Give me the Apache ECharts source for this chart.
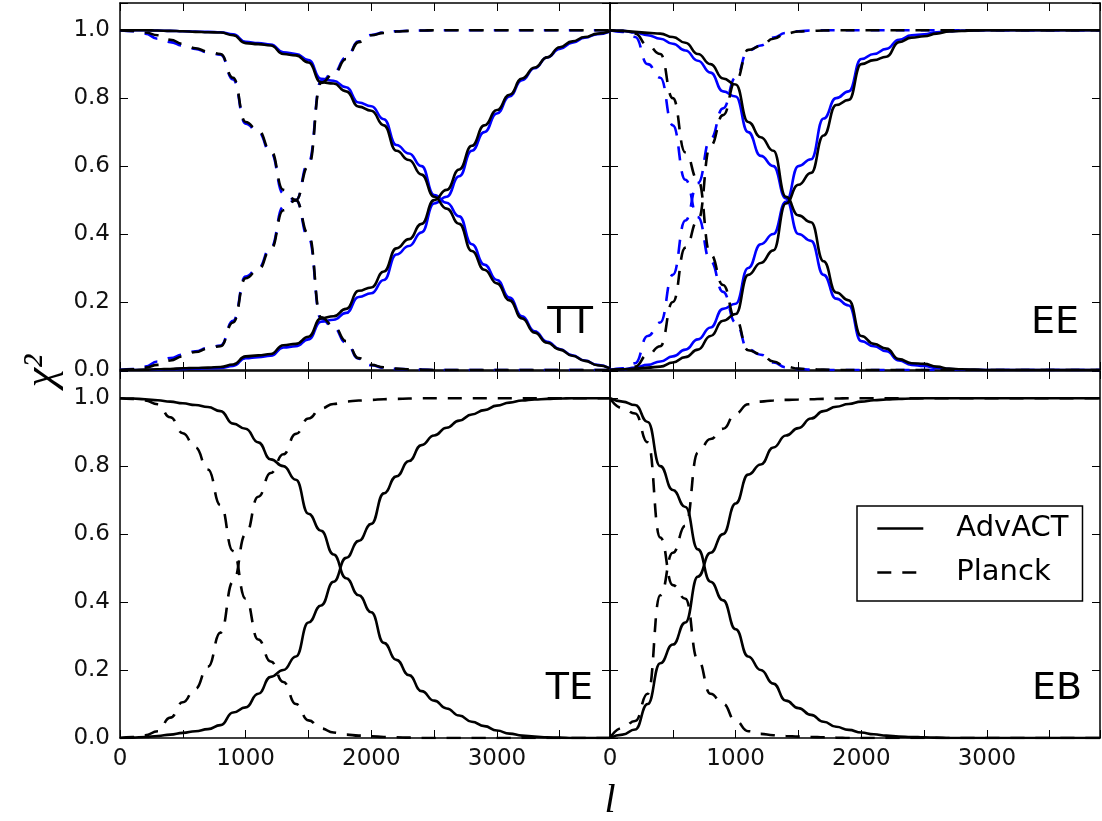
<!DOCTYPE html>
<html><head><meta charset="utf-8">
<script src="https://cdn.jsdelivr.net/npm/echarts@6/dist/echarts.min.js"></script>
<style>html,body{margin:0;padding:0;background:#fff}#c{width:1102px;height:821px}</style>
</head><body><div id="c"></div>
<script>
// multipole grid
const ell = [0,100,200,300,400,500,600,700,800,900,1000,1100,1200,1300,1400,1500,1600,1700,1800,1900,
             2000,2100,2200,2300,2400,2500,2600,2700,2800,2900,3000,3100,3200,3300,3400,3500,3600,3700,3800,3900];
const xLabelValues = [0,1000,2000,3000];
const yLabelValues = [0,0.2,0.4,0.6,0.8,1.0];
const panelNames = ['TT','EE','TE','EB'];

// ---- TT ----
const ttActDec = [1,1,1,0.999,0.998,0.997,0.995,0.994,0.993,0.985,
 0.962,0.959,0.955,0.93,0.926,0.905,0.847,0.843,0.82,0.775,
 0.763,0.72,0.645,0.618,0.575,0.51,0.475,0.43,0.35,0.295,
 0.255,0.205,0.152,0.11,0.08,0.06,0.042,0.027,0.014,0.005];
const ttActInc = [0,0,0.001,0.002,0.003,0.005,0.006,0.007,0.009,0.016,
 0.04,0.043,0.047,0.073,0.077,0.098,0.152,0.158,0.18,0.233,
 0.243,0.29,0.358,0.385,0.43,0.5,0.53,0.59,0.66,0.72,
 0.765,0.81,0.858,0.89,0.92,0.95,0.967,0.98,0.99,0.997];
const ttActDecB = [1,1,1,0.999,0.998,0.997,0.996,0.995,0.994,0.988,
 0.966,0.962,0.958,0.935,0.93,0.912,0.857,0.851,0.832,0.787,
 0.776,0.738,0.662,0.637,0.6,0.515,0.492,0.452,0.37,0.31,
 0.265,0.213,0.158,0.114,0.083,0.062,0.043,0.028,0.015,0.005];
const ttActIncB = [0,0,0,0.001,0.002,0.003,0.004,0.005,0.006,0.012,
 0.035,0.038,0.042,0.066,0.07,0.09,0.142,0.148,0.168,0.215,
 0.226,0.265,0.34,0.365,0.405,0.49,0.51,0.57,0.645,0.7,
 0.755,0.805,0.853,0.888,0.92,0.945,0.963,0.978,0.988,0.996];
const ttPlkDec = [1,0.998,0.993,0.985,0.972,0.96,0.947,0.937,0.93,0.86,
 0.73,0.705,0.645,0.53,0.5,0.4,0.155,0.13,0.085,0.035,
 0.015,0.008,0.004,0.002,0.001,0,0,0,0,0,
 0,0,0,0,0,0,0,0,0,0];
const ttPlkInc = [0,0.002,0.007,0.015,0.028,0.04,0.053,0.063,0.07,0.14,
 0.27,0.295,0.355,0.47,0.5,0.6,0.845,0.87,0.915,0.965,
 0.985,0.992,0.996,0.998,0.999,1,1,1,1,1,
 1,1,1,1,1,1,1,1,1,1];
const ttPlkDecB = [1,0.997,0.99,0.975,0.965,0.955,0.945,0.935,0.928,0.855,
 0.725,0.7,0.64,0.52,0.5,0.39,0.15,0.125,0.08,0.033,
 0.014,0.007,0.003,0.002,0.001,0,0,0,0,0,
 0,0,0,0,0,0,0,0,0,0];
const ttPlkIncB = [0,0.003,0.01,0.025,0.035,0.045,0.055,0.065,0.072,0.145,
 0.275,0.3,0.36,0.48,0.5,0.61,0.85,0.875,0.92,0.967,
 0.986,0.993,0.997,0.998,0.999,1,1,1,1,1,
 1,1,1,1,1,1,1,1,1,1];

// ---- EE ----
const eeActDec = [1,0.998,0.995,0.992,0.99,0.98,0.963,0.93,0.9,0.858,
 0.84,0.73,0.685,0.645,0.51,0.455,0.435,0.32,0.228,0.205,
 0.1,0.077,0.063,0.032,0.02,0.018,0.01,0.004,0.002,0.001,
 0,0,0,0,0,0,0,0,0,0];
const eeActInc = [0,0.002,0.004,0.007,0.01,0.022,0.038,0.06,0.1,0.145,
 0.165,0.28,0.315,0.352,0.49,0.545,0.58,0.69,0.78,0.795,
 0.9,0.912,0.922,0.965,0.978,0.982,0.99,0.996,0.998,0.999,
 1,1,1,1,1,1,1,1,1,1];
const eeActDecB = [1,0.998,0.993,0.985,0.975,0.96,0.94,0.91,0.875,0.82,
 0.805,0.7,0.63,0.6,0.505,0.4,0.38,0.28,0.21,0.19,
 0.085,0.07,0.055,0.028,0.015,0.012,0.006,0.003,0.001,0,
 0,0,0,0,0,0,0,0,0,0];
const eeActIncB = [0,0.002,0.007,0.015,0.025,0.04,0.06,0.09,0.125,0.18,
 0.195,0.3,0.37,0.4,0.495,0.6,0.62,0.74,0.8,0.82,
 0.915,0.93,0.945,0.972,0.985,0.988,0.994,0.997,0.999,1,
 1,1,1,1,1,1,1,1,1,1];
const eePlkDec = [1,0.998,0.99,0.955,0.93,0.8,0.64,0.56,0.34,0.25,
 0.15,0.058,0.047,0.025,0.01,0.004,0.002,0.001,0,0,
 0,0,0,0,0,0,0,0,0,0, 0,0,0,0,0,0,0,0,0,0];
const eePlkInc = [0,0.002,0.01,0.045,0.07,0.2,0.36,0.44,0.66,0.75,
 0.85,0.942,0.953,0.975,0.99,0.996,0.998,0.999,1,1,
 1,1,1,1,1,1,1,1,1,1, 1,1,1,1,1,1,1,1,1,1];
const eePlkDecB = [1,0.995,0.98,0.9,0.86,0.72,0.56,0.45,0.32,0.23,
 0.14,0.06,0.045,0.022,0.008,0.003,0.001,0,0,0,
 0,0,0,0,0,0,0,0,0,0, 0,0,0,0,0,0,0,0,0,0];
const eePlkIncB = [0,0.005,0.02,0.1,0.14,0.28,0.44,0.55,0.68,0.77,
 0.86,0.94,0.955,0.978,0.992,0.997,0.999,1,1,1,
 1,1,1,1,1,1,1,1,1,1, 1,1,1,1,1,1,1,1,1,1];

// ---- TE ----
const teActDec = [1,0.999,0.997,0.994,0.99,0.985,0.98,0.974,0.962,0.925,
 0.91,0.87,0.82,0.8,0.76,0.66,0.61,0.54,0.47,0.42,
 0.37,0.28,0.23,0.185,0.138,0.11,0.087,0.066,0.048,0.035,
 0.022,0.013,0.007,0.004,0.002,0.001,0,0,0,0];
const teActInc = [0,0.001,0.003,0.006,0.01,0.015,0.02,0.026,0.038,0.075,
 0.09,0.13,0.18,0.2,0.24,0.34,0.39,0.46,0.53,0.58,
 0.63,0.72,0.77,0.815,0.862,0.89,0.913,0.934,0.952,0.965,
 0.978,0.987,0.993,0.996,0.998,0.999,1,1,1,1];
const tePlkDec = [1,0.998,0.993,0.982,0.944,0.897,0.855,0.79,0.685,0.55,
 0.41,0.29,0.225,0.165,0.1,0.052,0.028,0.016,0.01,0.007,
 0.005,0.003,0.002,0.001,0,0,0,0,0,0, 0,0,0,0,0,0,0,0,0,0];
const tePlkInc = [0,0.003,0.008,0.02,0.06,0.105,0.145,0.21,0.31,0.46,
 0.6,0.71,0.78,0.835,0.895,0.94,0.97,0.983,0.99,0.993,
 0.995,0.997,0.998,0.999,1,1,1,1,1,1, 1,1,1,1,1,1,1,1,1,1];

// ---- EB ----
const ebActDec = [1,0.99,0.98,0.93,0.8,0.73,0.68,0.555,0.46,0.405,
 0.32,0.24,0.2,0.16,0.11,0.088,0.068,0.048,0.033,0.024,
 0.016,0.011,0.007,0.004,0.003,0.002,0.001,0,0,0, 0,0,0,0,0,0,0,0,0,0];
const ebActInc = [0,0.01,0.025,0.1,0.22,0.275,0.34,0.475,0.545,0.6,
 0.69,0.775,0.805,0.855,0.89,0.912,0.94,0.962,0.975,0.983,
 0.99,0.994,0.996,0.998,0.999,1,1,1,1,1, 1,1,1,1,1,1,1,1,1,1];
const ebPlkDec = [1,0.97,0.955,0.87,0.59,0.45,0.41,0.23,0.13,0.1,
 0.05,0.02,0.012,0.008,0.006,0.004,0.003,0.002,0.001,0,
 0,0,0,0,0,0,0,0,0,0, 0,0,0,0,0,0,0,0,0,0];
const ebPlkInc = [0,0.03,0.05,0.13,0.42,0.545,0.625,0.84,0.88,0.91,
 0.955,0.982,0.99,0.993,0.995,0.996,0.997,0.998,0.999,1,
 1,1,1,1,1,1,1,1,1,1, 1,1,1,1,1,1,1,1,1,1];

// ---------- layout ----------
const grids = [
  {left:120, top:3,   width:490, height:367},
  {left:610, top:3,   width:490, height:367},
  {left:120, top:371, width:490, height:367},
  {left:610, top:371, width:490, height:367}
];
const FONT = 'DejaVu Sans';
function axCommon(){
  return {
    axisLine:{onZero:false, lineStyle:{color:'#000', width:1.5}},
    axisTick:{inside:true, length:8, lineStyle:{color:'#000', width:1}},
    splitLine:{show:false}
  };
}
const xAxes = [], yAxes = [];
grids.forEach((g,gi)=>{
  const bottomRow = gi>=2, leftCol = gi%2===0;
  ['bottom','top'].forEach(pos=>{
    xAxes.push(Object.assign(axCommon(), {
      type:'value', gridIndex:gi, position:pos, min:0, max:3900, interval:500,
      axisLabel:{show: bottomRow && pos==='bottom', margin:10, fontSize:23, fontFamily:FONT, color:'#111',
        formatter: v => xLabelValues.indexOf(v)>=0 ? String(v) : ''}
    }));
  });
  ['left','right'].forEach(pos=>{
    yAxes.push(Object.assign(axCommon(), {
      type:'value', gridIndex:gi, position:pos, min:0, max:1.08, interval:0.2,
      axisLabel:{show: leftCol && pos==='left', margin:10, fontSize:23, fontFamily:FONT, color:'#111',
        formatter: v => yLabelValues.some(t=>Math.abs(t-v)<1e-9) ? v.toFixed(1) : ''}
    }));
  });
});

function line(gi, name, arr, color, dashed){
  return {
    type:'line', name, xAxisIndex:gi*2, yAxisIndex:gi*2,
    data: ell.map((l,i)=>[l, arr[i]]),
    symbol:'none', showSymbol:false, smooth:0.5, smoothMonotone:'x',
    lineStyle:{color, width:2.6, type: dashed ? [14,11] : 'solid', cap:'butt'},
    itemStyle:{color}, silent:true, clip:true
  };
}
const BLUE = '#0000ff', BLACK = '#000000';
const series = [
  line(0,'alt', ttActDecB, BLUE, false), line(0,'alt', ttActIncB, BLUE, false),
  line(0,'altP', ttPlkDecB, BLUE, true), line(0,'altP', ttPlkIncB, BLUE, true),
  line(1,'alt', eeActDecB, BLUE, false), line(1,'alt', eeActIncB, BLUE, false),
  line(1,'altP', eePlkDecB, BLUE, true), line(1,'altP', eePlkIncB, BLUE, true),
  line(0,'AdvACT', ttActDec, BLACK, false), line(0,'AdvACT', ttActInc, BLACK, false),
  line(0,'Planck', ttPlkDec, BLACK, true), line(0,'Planck', ttPlkInc, BLACK, true),
  line(1,'AdvACT', eeActDec, BLACK, false), line(1,'AdvACT', eeActInc, BLACK, false),
  line(1,'Planck', eePlkDec, BLACK, true), line(1,'Planck', eePlkInc, BLACK, true),
  line(2,'AdvACT', teActDec, BLACK, false), line(2,'AdvACT', teActInc, BLACK, false),
  line(2,'Planck', tePlkDec, BLACK, true), line(2,'Planck', tePlkInc, BLACK, true),
  line(3,'AdvACT', ebActDec, BLACK, false), line(3,'AdvACT', ebActInc, BLACK, false),
  line(3,'Planck', ebPlkDec, BLACK, true), line(3,'Planck', ebPlkInc, BLACK, true)
];

const labelPos = [[593,323],[1079,323],[593,689],[1082,689]];
const graphic = panelNames.map((n,i)=>({
  type:'text', x:labelPos[i][0], y:labelPos[i][1], silent:true, z:50,
  style:{text:n, textAlign:'right', textVerticalAlign:'middle', font:'38px "DejaVu Sans"', fill:'#000'}
}));
graphic.push({type:'text', x:42, y:371, rotation:Math.PI/2, silent:true,
  style:{text:'χ²', textAlign:'center', textVerticalAlign:'middle', font:'italic 44px "Liberation Serif"', fill:'#000'}});
graphic.push({type:'text', x:610, y:801, silent:true,
  style:{text:'l', textAlign:'center', textVerticalAlign:'middle', font:'italic 40px "Liberation Serif"', fill:'#000'}});

const chart = echarts.init(document.getElementById('c'), null, {renderer:'canvas'});
chart.setOption({
  animation:false,
  backgroundColor:'#fff',
  grid: grids.map(g=>Object.assign({outerBoundsMode:'none', containLabel:false}, g)),
  xAxis: xAxes, yAxis: yAxes,
  legend:{
    data:['AdvACT','Planck'], orient:'vertical', left:857, top:506,
    itemWidth:46, itemHeight:28, itemGap:15,
    padding:[8,14,14,19], borderColor:'#000', borderWidth:1.5, borderRadius:0,
    backgroundColor:'#fff', selectedMode:false,
    itemStyle:{color:'rgba(0,0,0,0)', borderWidth:0, opacity:0},
    lineStyle:{width:2.6},
    textStyle:{fontSize:29, fontFamily:FONT, color:'#000', padding:[0,0,0,28]}
  },
  series, graphic
});
</script></body></html>
